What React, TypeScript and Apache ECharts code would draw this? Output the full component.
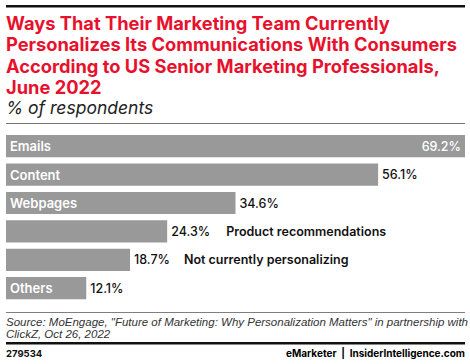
import React, { useEffect, useRef } from "react";
import * as echarts from "echarts";

const categories = ["Emails", "Content", "Webpages", "Product recommendations", "Not currently personalizing", "Others"];
const values = [69.2, 56.1, 34.6, 24.3, 18.7, 12.1];
const insideName = [true, true, true, false, false, true];
const insideValue = [true, false, false, false, false, false];
const titleLines = [
  "Ways That Their Marketing Team Currently",
  "Personalizes Its Communications With Consumers",
  "According to US Senior Marketing Professionals,",
  "June 2022",
];
const subtitle = "% of respondents";
const sourceLines = [
  'Source: MoEngage, "Future of Marketing: Why Personalization Matters" in partnership with',
  "ClickZ, Oct 26, 2022",
];
const chartId = "279534";

const FONT = "Inter, 'Noto Sans', Arial, sans-serif";
const SRC_FONT = "'Liberation Sans', Arial, sans-serif";
const RED = "#e8112d";

export default function App() {
  const ref = useRef<HTMLDivElement>(null);
  useEffect(() => {
    if (!ref.current) return;
    const chart = echarts.init(ref.current, undefined, { renderer: "svg" });
    const valueData = values.map((v, i) => {
      const inside = insideValue[i];
      return {
        value: v,
        label: inside
          ? { position: "insideRight", distance: 4, color: "#fff", formatter: "{v|{c}%}", rich: { v: { color: "#fff", fontSize: 12.5, fontWeight: 500, fontFamily: FONT } } }
          : {
              position: "right",
              distance: 4,
              formatter: insideName[i] ? "{v|{c}%}" : "{v|{c}%}{g|}{n|{b}}",
              rich: {
                v: { color: "#111", fontSize: 12.5, fontWeight: 500, fontFamily: FONT },
                g: { width: i === 3 ? 16 : 14 },
                n: { color: "#111", fontSize: 12.5, fontWeight: 600, fontFamily: FONT },
              },
            },
      };
    });
    const nameData = values.map((v, i) => ({
      value: v,
      label: { show: insideName[i] },
    }));
    const graphics: any[] = [
      { type: "rect", shape: { x: 6, y: 5, width: 459, height: 2.5 }, style: { fill: "#111" } },
      ...titleLines.map((t, i) => ({
        type: "text",
        x: 6,
        y: 13.5 + i * 21.6,
        style: { text: t, fill: RED, font: `bold 18.3px ${FONT}`, textVerticalAlign: "top" },
      })),
      {
        type: "text",
        x: 6,
        y: 98,
        style: { text: subtitle, fill: "#222", font: `italic 17.5px ${FONT}`, textVerticalAlign: "top" },
      },
      { type: "rect", shape: { x: 6, y: 123, width: 459, height: 1 }, style: { fill: "#777" } },
      { type: "rect", shape: { x: 6, y: 312, width: 459, height: 0.8 }, style: { fill: "#555" } },
      ...sourceLines.map((t, i) => ({
        type: "text",
        x: 6,
        y: 315.5 + i * 12.5,
        style: { text: t, fill: "#333", font: `italic 11.5px ${SRC_FONT}`, textVerticalAlign: "top" },
      })),
      { type: "rect", shape: { x: 6, y: 342, width: 459, height: 2.5 }, style: { fill: "#111" } },
      {
        type: "text",
        x: 6,
        y: 348,
        style: { text: chartId, fill: "#111", font: `bold 9.5px ${FONT}`, textVerticalAlign: "top" },
      },
      {
        type: "text",
        x: 465,
        y: 348,
        style: {
          text: "{r|e}{k|Marketer  |  }{r|InsiderIntelligence.com}",
          align: "right",
          verticalAlign: "top",
          rich: {
            r: { fontWeight: "bold", fontSize: 10, fontFamily: FONT, color: RED },
            k: { fontWeight: "bold", fontSize: 10, fontFamily: FONT, color: "#111" },
          },
        },
      },
    ];
    chart.setOption({
      animation: false,
      grid: { left: 6, right: 5, top: 132, height: 170.4, containLabel: false },
      xAxis: { type: "value", min: 0, max: 69.2, show: false },
      yAxis: {
        type: "category",
        data: categories,
        inverse: true,
        show: false,
      },
      series: [
        {
          type: "bar",
          data: valueData,
          barCategoryGap: "22%",
          itemStyle: { color: "#999999" },
          label: { show: true },
          silent: true,
        },
        {
          type: "bar",
          data: nameData,
          barGap: "-100%",
          barCategoryGap: "22%",
          itemStyle: { color: "transparent" },
          label: {
            position: "insideLeft",
            distance: 4,
            formatter: "{b}",
            color: "#fff",
            fontSize: 13,
            fontWeight: 600,
            fontFamily: FONT,
          },
          silent: true,
        },
      ],
      graphic: graphics,
    });
    return () => chart.dispose();
  }, []);
  return (
    <div
      ref={ref}
      style={{ position: "fixed", left: 0, top: 0, width: 470, height: 364, background: "#fff" }}
    />
  );
}
